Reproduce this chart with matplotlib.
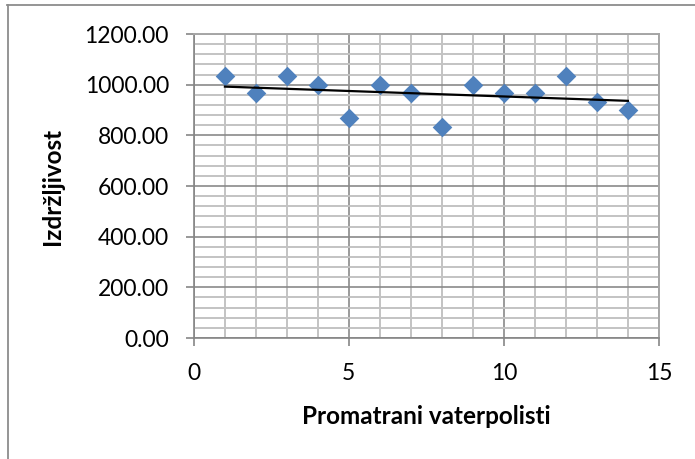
import numpy as np
import matplotlib
matplotlib.use('Agg')
from matplotlib import pyplot as plt
from matplotlib.lines import Line2D
from matplotlib.ticker import MultipleLocator, FormatStrFormatter

# observed players and their endurance scores
players = np.arange(1, 15)
endurance = [1033.33, 966.67, 1033.33, 1000.00, 866.67, 1000.00, 966.67,
             833.33, 1000.00, 966.67, 966.67, 1033.33, 933.33, 900.00]

plt.rcParams['font.family'] = ['Lato', 'DejaVu Sans']

fig = plt.figure(figsize=(6.95, 4.59), dpi=100)
ax = fig.add_axes([0.279, 0.2636, 0.669, 0.6623])

# grid like the Excel chart: light minor lines, darker major lines
ax.set_axisbelow(True)
ax.xaxis.set_major_locator(MultipleLocator(5))
ax.xaxis.set_minor_locator(MultipleLocator(1))
ax.yaxis.set_major_locator(MultipleLocator(200))
ax.yaxis.set_minor_locator(MultipleLocator(40))
ax.grid(which='minor', color='#c3c3c3', linewidth=1.4)
ax.grid(which='major', color='#8a8a8a', linewidth=1.2)

ax.scatter(players, endurance, marker='D', s=100, color='#4f81bd', zorder=3, linewidths=0)

# linear trendline
k, b = np.polyfit(players, endurance, 1)
xs = np.array([players[0], players[-1]])
ax.plot(xs, k * xs + b, color='black', linewidth=1.6, zorder=4)

ax.set_xlim(0, 15)
ax.set_ylim(0, 1200)
ax.yaxis.set_major_formatter(FormatStrFormatter('%.2f'))

for side in ['left', 'bottom']:
    ax.spines[side].set_color('#868686')
    ax.spines[side].set_linewidth(1.2)
for side in ['top', 'right']:
    ax.spines[side].set_color('#a6a6a6')
    ax.spines[side].set_linewidth(1.4)

ax.tick_params(which='major', direction='out', length=6, width=1.2, color='#868686',
               labelsize=16.5, pad=12)
ax.tick_params(which='minor', length=0)

ax.set_xlabel('Promatrani vaterpolisti', fontsize=17.5, fontweight='bold', va='center')
ax.set_ylabel('Izdržljivost', fontsize=17.5, fontweight='bold', va='center', ha='center')
ax.xaxis.set_label_coords(0.5, -0.257)
ax.yaxis.set_label_coords(-0.305, 0.5)

# outer chart border (top and left visible)
fig.add_artist(Line2D([7 / 695, 1.0], [1 - 5 / 459, 1 - 5 / 459], color='#8c8c8c', linewidth=1.3))
fig.add_artist(Line2D([8 / 695, 8 / 695], [0.0, 1 - 5 / 459], color='#8c8c8c', linewidth=1.3))

plt.savefig('out.png', dpi=100)
plt.close()
